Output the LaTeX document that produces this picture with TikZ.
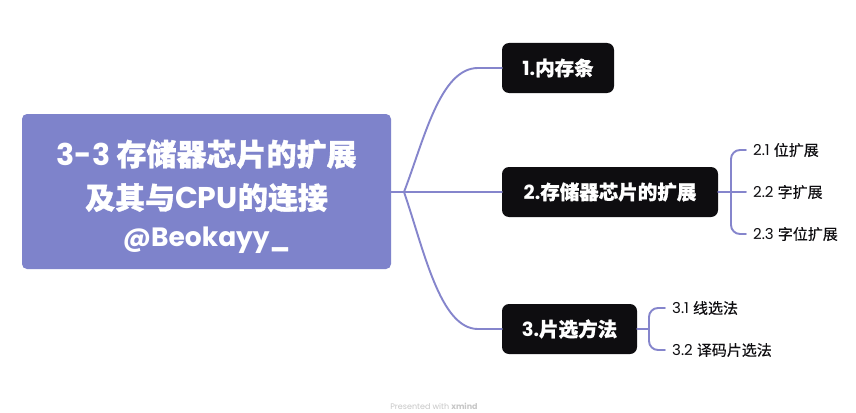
\documentclass[tikz,border=0pt]{standalone}
\usepackage{fontspec}
\setmainfont{Poppins}
\newfontfamily\cjk{Noto Sans CJK SC}
\newfontfamily\lat{Poppins}
\definecolor{rootc}{HTML}{7E83CB}
\definecolor{linec}{HTML}{8585CC}
\definecolor{inkc}{HTML}{0E0D10}
\tikzset{
  px/.style={x=1pt,y=-1pt},
  rootbox/.style={fill=rootc,rounded corners=5pt,minimum width=369pt,minimum height=155pt,inner sep=0pt,text=white,align=center,font=\fontsize{30}{43.5}\selectfont\bfseries},
  topic/.style={fill=inkc,rounded corners=7pt,minimum height=50pt,inner sep=0pt,text=white,font=\fontsize{19.5}{22}\selectfont\bfseries},
  leaf/.style={anchor=west,inner sep=0pt,text=inkc,font=\fontsize{15}{17}\selectfont},
  conn/.style={draw=linec,line width=1.9pt,line cap=round},
}
\newcommand{\zh}[1]{{\cjk\addfontfeature{FakeBold=1.2}#1}}
\newcommand{\zl}[1]{{\cjk\addfontfeature{FakeBold=0.3}#1}}
\begin{document}
\begin{tikzpicture}[px]
\useasboundingbox (0,0) rectangle (856,412);
\fill[white] (0,0) rectangle (856,412);
\coordinate (hub) at (404,192);
\node[rootbox] (root) at (206.5,191.5) {\rule{0pt}{36pt}{\lat\bfseries 3-3 }\zh{存储器芯片的扩展}\\\zh{及其与}{\lat\bfseries CPU}\zh{的连接}\\[-6pt]{\lat\bfseries\fontsize{26.5}{30}\selectfont @Beokayy\_}};
\node[topic,minimum width=112pt] (n1) at (558,68) {{\lat\bfseries 1.}\zh{内存条}};
\node[topic,minimum width=216pt] (n2) at (610,192) {{\lat\bfseries 2.}\zh{存储器芯片的扩展}};
\node[topic,minimum width=135pt] (n3) at (569.5,329) {{\lat\bfseries 3.}\zh{片选方法}};
\node[leaf] (l1) at (753,150) {2.1 \zl{位扩展}};
\node[leaf] (l2) at (753,192) {2.2 \zl{字扩展}};
\node[leaf] (l3) at (753,234) {2.3 \zl{字位扩展}};
\node[leaf] (m1) at (672,308) {3.1 \zl{线选法}};
\node[leaf] (m2) at (672,350) {3.2 \zl{译码片选法}};
\node[anchor=center,inner sep=0pt,text=black!22,font=\fontsize{8}{10}\selectfont] (foot) at (434,406) {Presented with \textbf{xmind}};
\draw[conn] (root.east |- hub) -- (hub);
\draw[conn] (hub) -- (n2.west);
\draw[conn] (hub) .. controls (424,140) and (440,68) .. (478,68) -- (n1.west);
\draw[conn] (hub) .. controls (424,250) and (440,329) .. (478,329) -- (n3.west);
\draw[conn,shorten >=7pt] (n2.east) -- (l2.west);
\draw[conn,shorten >=7pt,shorten <=7pt,rounded corners=9pt] (l1.west) -- (731,150) -- (731,234) -- (l3.west);
\draw[conn,shorten >=7pt,shorten <=7pt,rounded corners=9pt] (m1.west) -- (649,308) -- (649,350) -- (m2.west);
\draw[conn] (n3.east) -- (649,329);
\end{tikzpicture}
\end{document}
